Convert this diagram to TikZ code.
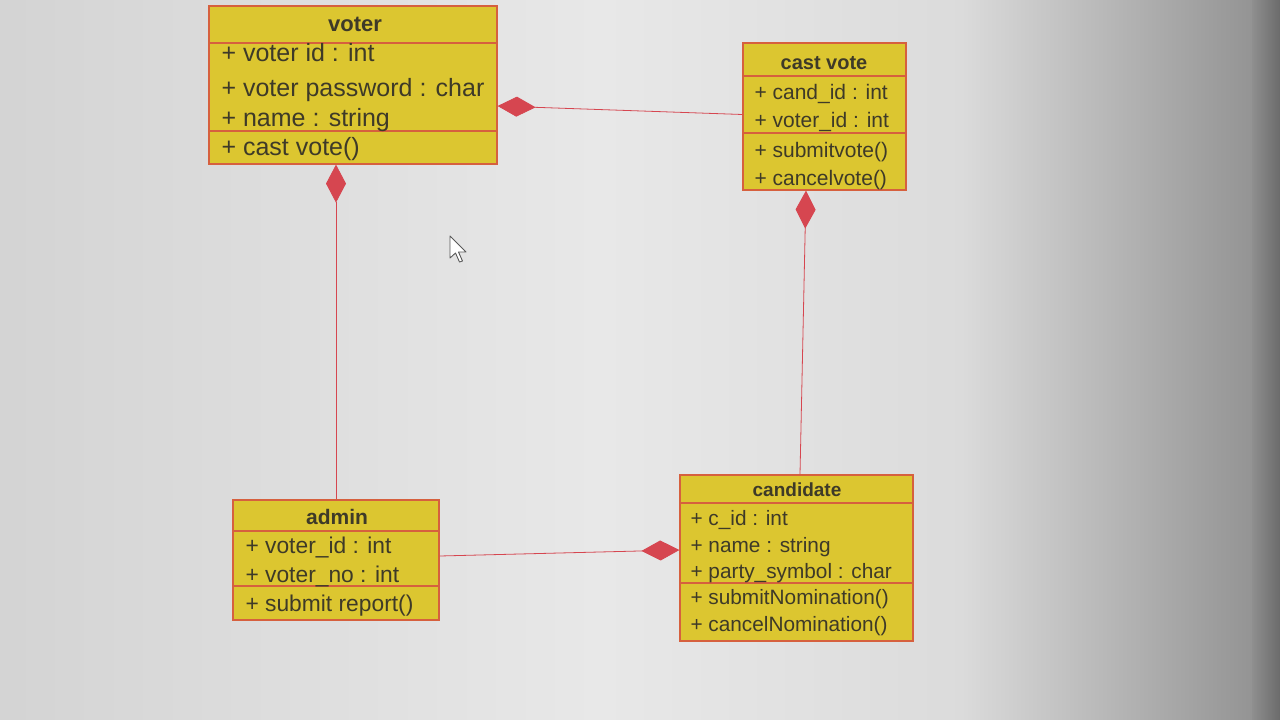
\documentclass[tikz,border=0pt]{standalone}
\usepackage{fontspec}
\setmainfont{Liberation Sans}
\usetikzlibrary{arrows.meta,calc}

\definecolor{boxfill}{RGB}{220,198,48}
\definecolor{boxline}{RGB}{214,96,62}
\definecolor{linkred}{RGB}{214,70,80}
\definecolor{ink}{RGB}{62,58,40}

\tikzset{
  classbox/.style={draw=boxline, line width=1.2pt, fill=boxfill, inner sep=0pt},
  sepline/.style={draw=boxline, line width=1.1pt},
  title/.style={anchor=base, text=ink, font=\bfseries},
  row/.style={anchor=base west, text=ink},
  assoc/.style={draw=linkred, line width=0.8pt},
  compose/.style={assoc, -{Diamond[length=38pt,width=20pt,fill=linkred]}},
}

\newcommand{\fsz}[1]{\fontsize{#1}{#1}\selectfont}

\begin{document}
\begin{tikzpicture}[x=1pt,y=-1pt]
\useasboundingbox (0,0) rectangle (1280,720);

% screen background, lighter in the middle and darker towards the right
\fill[left color=black!17, right color=black!9] (0,0) rectangle (600,720);
\fill[left color=black!9, right color=black!14] (600,0) rectangle (960,720);
\fill[left color=black!14, right color=black!42] (960,0) rectangle (1252,720);
\fill[left color=black!44, right color=black!58] (1252,0) rectangle (1280,720);

% ---------- voter ----------
\node[classbox, minimum width=288pt, minimum height=158pt] (voter) at (353,85) {};
\draw[sepline] (voter.west |- 0,43) -- (voter.east |- 0,43);
\draw[sepline] (voter.west |- 0,131) -- (voter.east |- 0,131);
\node[title, font=\bfseries\fsz{22}] (voterT) at (355,31) {voter};
\node[row, font=\fsz{25}] (voterA1) at (218,61) {+ voter id : int};
\node[row, font=\fsz{25}] (voterA2) at (218,96) {+ voter password : char};
\node[row, font=\fsz{25}] (voterA3) at (218,126) {+ name : string};
\node[row, font=\fsz{25}] (voterM1) at (218,155) {+ cast vote()};

% ---------- cast vote ----------
\node[classbox, minimum width=163pt, minimum height=147pt] (cast) at (824.5,116.5) {};
\draw[sepline] (cast.west |- 0,76) -- (cast.east |- 0,76);
\draw[sepline] (cast.west |- 0,133) -- (cast.east |- 0,133);
\node[title, font=\bfseries\fsz{20}] (castT) at (824,69) {cast vote};
\node[row, font=\fsz{21}] (castA1) at (751,99) {+ cand\_id : int};
\node[row, font=\fsz{21}] (castA2) at (751,127) {+ voter\_id : int};
\node[row, font=\fsz{21}] (castM1) at (751,157) {+ submitvote()};
\node[row, font=\fsz{21}] (castM2) at (751,185) {+ cancelvote()};

% ---------- admin ----------
\node[classbox, minimum width=206pt, minimum height=120pt] (admin) at (336,560) {};
\draw[sepline] (admin.west |- 0,531) -- (admin.east |- 0,531);
\draw[sepline] (admin.west |- 0,586) -- (admin.east |- 0,586);
\node[title, font=\bfseries\fsz{21}] (adminT) at (337,524) {admin};
\node[row, font=\fsz{22.8}] (adminA1) at (242,553) {+ voter\_id : int};
\node[row, font=\fsz{22.8}] (adminA2) at (242,582) {+ voter\_no : int};
\node[row, font=\fsz{22.8}] (adminM1) at (242,611) {+ submit report()};

% ---------- candidate ----------
\node[classbox, minimum width=233pt, minimum height=166pt] (cand) at (796.5,558) {};
\draw[sepline] (cand.west |- 0,503) -- (cand.east |- 0,503);
\draw[sepline] (cand.west |- 0,583) -- (cand.east |- 0,583);
\node[title, font=\bfseries\fsz{19}] (candT) at (797,496) {candidate};
\node[row, font=\fsz{20.8}] (candA1) at (687,525) {+ c\_id : int};
\node[row, font=\fsz{20.8}] (candA2) at (687,552) {+ name : string};
\node[row, font=\fsz{20.8}] (candA3) at (687,578) {+ party\_symbol : char};
\node[row, font=\fsz{20.8}] (candM1) at (687,604) {+ submitNomination()};
\node[row, font=\fsz{20.8}] (candM2) at (687,631) {+ cancelNomination()};

% ---------- compositions ----------
\draw[compose] ([yshift=2pt]cast.west) -- ([yshift=-21pt]voter.east);
\draw[compose] (admin.north) -- ([xshift=-17pt]voter.south);
\draw[compose] ([xshift=3.5pt]cand.north) -- ([xshift=-18.5pt]cast.south);
\draw[compose] ([yshift=4pt]admin.east) -- ([yshift=8pt]cand.west);

% ---------- mouse pointer ----------
\draw[fill=white, draw=black!65, line width=0.9pt, line join=round]
  (450,236) -- (450,258) -- (455.5,253) -- (459.5,262) -- (462.5,261) -- (458.5,252) -- (466,252) -- cycle;
\end{tikzpicture}
\end{document}
